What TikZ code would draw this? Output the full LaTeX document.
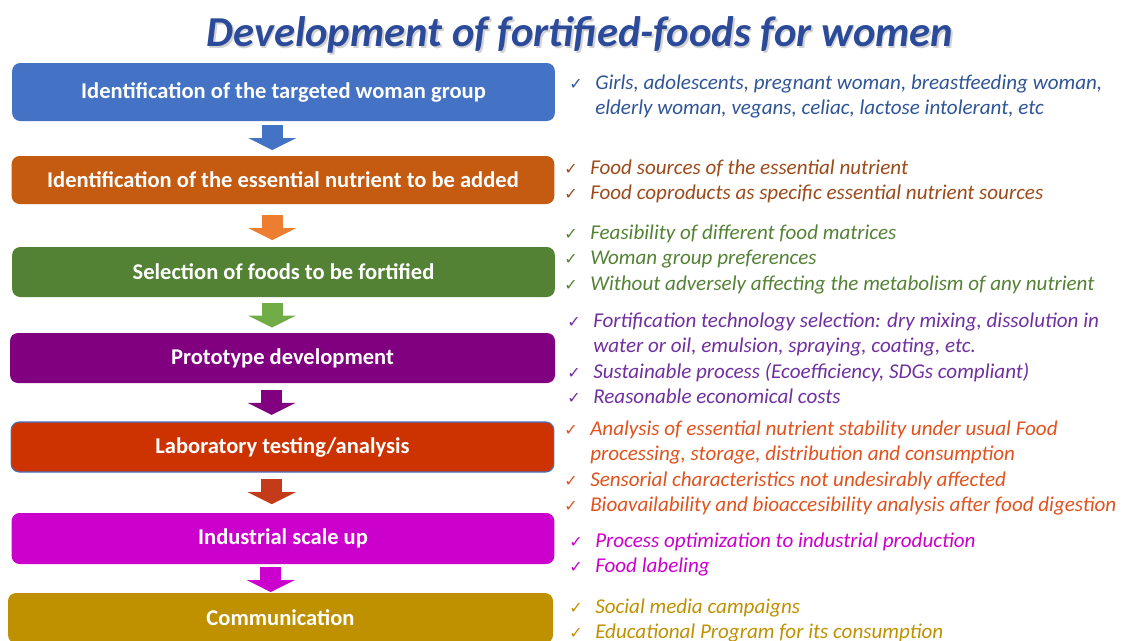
\documentclass[tikz,border=0pt]{standalone}
\usepackage{fontspec}
\setmainfont{Carlito}
\newfontfamily\checkfont{DejaVu Sans}
\usetikzlibrary{arrows.meta,calc}

% step boxes
\definecolor{stepblue}{HTML}{4472C4}
\definecolor{steporange}{HTML}{C55A11}
\definecolor{stepgreen}{HTML}{548235}
\definecolor{steppurple}{HTML}{800080}
\definecolor{stepred}{HTML}{CC3300}
\definecolor{stepmagenta}{HTML}{CC00CC}
\definecolor{stepgold}{HTML}{BF9000}
% block arrows
\definecolor{arroworange}{HTML}{ED7D31}
\definecolor{arrowgreen}{HTML}{70AD47}
\definecolor{arrowred}{HTML}{C43B1A}
% notes on the right
\definecolor{titleblue}{HTML}{2B4A9A}
\definecolor{noteblue}{HTML}{2F5597}
\definecolor{notebrown}{HTML}{9C4A1A}
\definecolor{notegreen}{HTML}{548235}
\definecolor{notepurple}{HTML}{7030A0}
\definecolor{notered}{HTML}{E0521E}
\definecolor{notemagenta}{HTML}{CC00CC}
\definecolor{notegold}{HTML}{BF9000}

\newcommand{\tick}{\makebox[19.5pt][l]{\checkfont\fontsize{12}{12}\selectfont ✓}}
\newcommand{\cont}{\hspace*{19.5pt}}

\begin{document}
\begin{tikzpicture}[x=0.75pt, y=-0.75pt,
    stepbox/.style={rounded corners=6pt, fill=#1, text=white, inner sep=0pt,
        minimum width=407pt, minimum height=37.5pt,
        font=\fontsize{16.9}{19}\selectfont\bfseries},
    note/.style={text=#1, anchor=north west, align=left, inner sep=0pt,
        font=\fontsize{15.8}{19.1}\selectfont\itshape},
    flow/.style={#1, line width=15.75pt,
        -{Triangle[width=36pt, length=9pt, line width=0pt]}}]
    \useasboundingbox (0,0) rectangle (1125,640);
    \clip (0,0) rectangle (1125,640);

    %title
    \node[text=gray!35, font=\fontsize{32}{34}\selectfont\bfseries\itshape] (title-shadow) at (581.5,37) {Development of fortified-foods for women};
    \node[text=titleblue, font=\fontsize{32}{34}\selectfont\bfseries\itshape] (title) at (580,35) {Development of fortified-foods for women};

    %steps
    \node[stepbox=stepblue, minimum height=43.5pt] (target) at (283.5,92) {Identification of the targeted woman group};
    \node[stepbox=steporange, minimum height=36pt] (nutrient) at (283,180) {Identification of the essential nutrient to be added};
    \node[stepbox=stepgreen] (foods) at (283.5,272) {Selection of foods to be fortified};
    \node[stepbox=steppurple, minimum width=408.75pt] (prototype) at (282.5,358) {Prototype development};
    \node[stepbox=stepred, draw=stepblue, line width=0.8pt] (lab) at (282.5,447) {Laboratory testing/analysis};
    \node[stepbox=stepmagenta, minimum height=38.25pt] (scaleup) at (283,538.5) {Industrial scale up};
    \node[stepbox=stepgold, minimum width=408.75pt] (comm) at (280.5,618) {Communication};

    %arrows
    \coordinate (g1) at ($(target.south)!.5!(nutrient.north)+(-11,-1)$);
    \coordinate (g2) at ($(nutrient.south)!.5!(foods.north)+(-11,2)$);
    \coordinate (g3) at ($(foods.south)!.5!(prototype.north)+(-11,0)$);
    \coordinate (g4) at ($(prototype.south)!.5!(lab.north)+(-11,0)$);
    \coordinate (g5) at ($(lab.south)!.5!(scaleup.north)+(-11,-1)$);
    \coordinate (g6) at ($(scaleup.south)!.5!(comm.north)+(-11,1)$);
    \draw[flow=stepblue] ($(g1)+(0,-12.5)$) -- ($(g1)+(0,12.5)$);
    \draw[flow=arroworange] ($(g2)+(0,-12.5)$) -- ($(g2)+(0,12.5)$);
    \draw[flow=arrowgreen] ($(g3)+(0,-12.5)$) -- ($(g3)+(0,12.5)$);
    \draw[flow=steppurple] ($(g4)+(0,-12.5)$) -- ($(g4)+(0,12.5)$);
    \draw[flow=arrowred] ($(g5)+(0,-12.5)$) -- ($(g5)+(0,12.5)$);
    \draw[flow=stepmagenta] ($(g6)+(0,-12.5)$) -- ($(g6)+(0,12.5)$);

    %notes
    \node[note=noteblue] (who) at (569,74.4) {\tick Girls, adolescents, pregnant woman, breastfeeding woman,\\ \cont elderly woman, vegans, celiac, lactose intolerant, etc};
    \node[note=notebrown] (sources) at (564,159.4) {\tick Food sources of the essential nutrient\\ \tick Food coproducts as specific essential nutrient sources};
    \node[note=notegreen] (matrices) at (564,224.4) {\tick Feasibility of different food matrices\\ \tick Woman group preferences\\ \tick Without adversely affecting the metabolism of any nutrient};
    \node[note=notepurple] (technology) at (567,312.4) {\tick Fortification technology selection: dry mixing, dissolution in\\ \cont water or oil, emulsion, spraying, coating, etc.\\ \tick Sustainable process (Ecoefficiency, SDGs compliant)\\ \tick Reasonable economical costs};
    \node[note=notered] (analysis) at (564,420.4) {\tick Analysis of essential nutrient stability under usual Food\\ \cont processing, storage, distribution and consumption\\ \tick Sensorial characteristics not undesirably affected\\ \tick Bioavailability and bioaccesibility analysis after food digestion};
    \node[note=notemagenta] (production) at (569,532.4) {\tick Process optimization to industrial production\\ \tick Food labeling};
    \node[note=notegold] (campaigns) at (569,598.4) {\tick Social media campaigns\\ \tick Educational Program for its consumption};
\end{tikzpicture}
\end{document}
